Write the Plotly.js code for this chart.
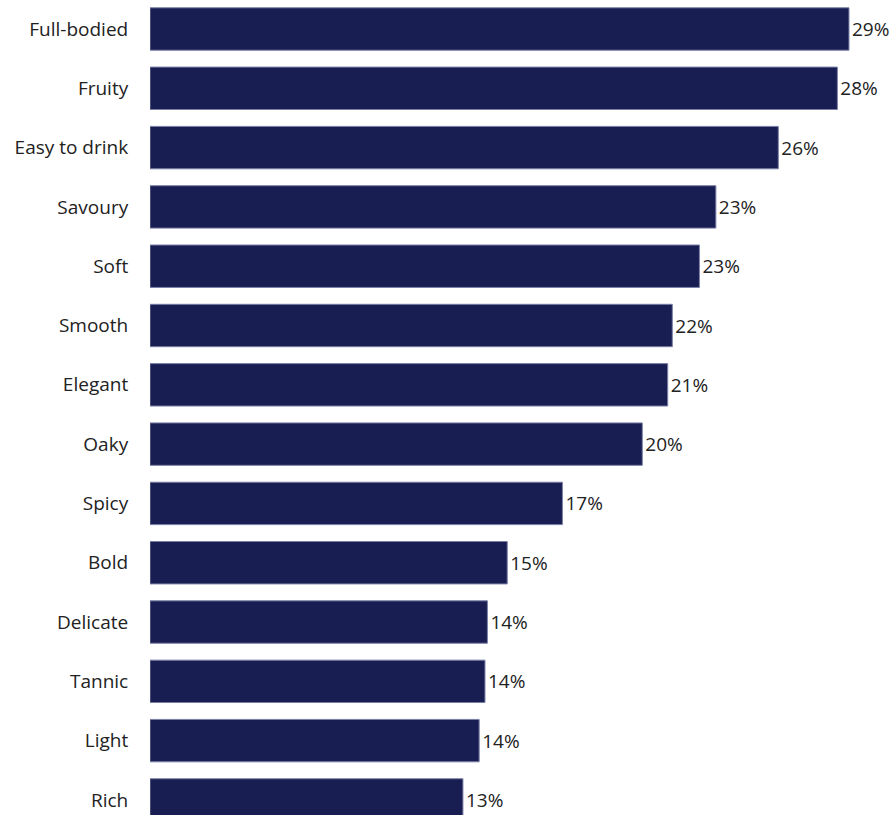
<!DOCTYPE html>
<html>
<head>
<meta charset="utf-8">
<script src="https://cdn.plot.ly/plotly-3.0.1.min.js"></script>
<style>
html,body{margin:0;padding:0;background:#fff;}
#chart{width:894px;height:815px;}
</style>
</head>
<body>
<div id="chart"></div>
<script>
const categories = ["Full-bodied","Fruity","Easy to drink","Savoury","Soft","Smooth","Elegant","Oaky","Spicy","Bold","Delicate","Tannic","Light","Rich"];
const values = [28.88,28.40,25.96,23.38,22.70,21.58,21.39,20.34,17.04,14.76,13.94,13.84,13.60,12.93];
const valueLabels = ["29%","28%","26%","23%","23%","22%","21%","20%","17%","15%","14%","14%","14%","13%"];

const trace = {
  type: "bar",
  orientation: "h",
  x: values,
  y: categories,
  text: valueLabels,
  textposition: "outside",
  cliponaxis: false,
  constraintext: "none",
  textfont: {family: "Open Sans", size: 19, color: "#222222"},
  marker: {color: "#181e52", line: {color: "#7a7fa6", width: 1}},
  hoverinfo: "none"
};

const layout = {
  width: 894,
  height: 815,
  margin: {l: 150, r: 0, t: 0, b: 0, pad: 0},
  paper_bgcolor: "#ffffff",
  plot_bgcolor: "#ffffff",
  bargap: 0.285,
  showlegend: false,
  font: {family: "Open Sans", size: 19, color: "#222222"},
  xaxis: {range: [0, 30.74], visible: false, fixedrange: true},
  yaxis: {
    type: "category",
    range: [13.254, -0.489],
    autorange: false,
    showgrid: false,
    zeroline: false,
    showline: false,
    ticks: "outside",
    ticklen: 17,
    tickcolor: "rgba(0,0,0,0)",
    tickfont: {family: "Open Sans", size: 19, color: "#222222"}
  }
};

Plotly.newPlot("chart", [trace], layout, {staticPlot: true, displayModeBar: false});
</script>
</body>
</html>
